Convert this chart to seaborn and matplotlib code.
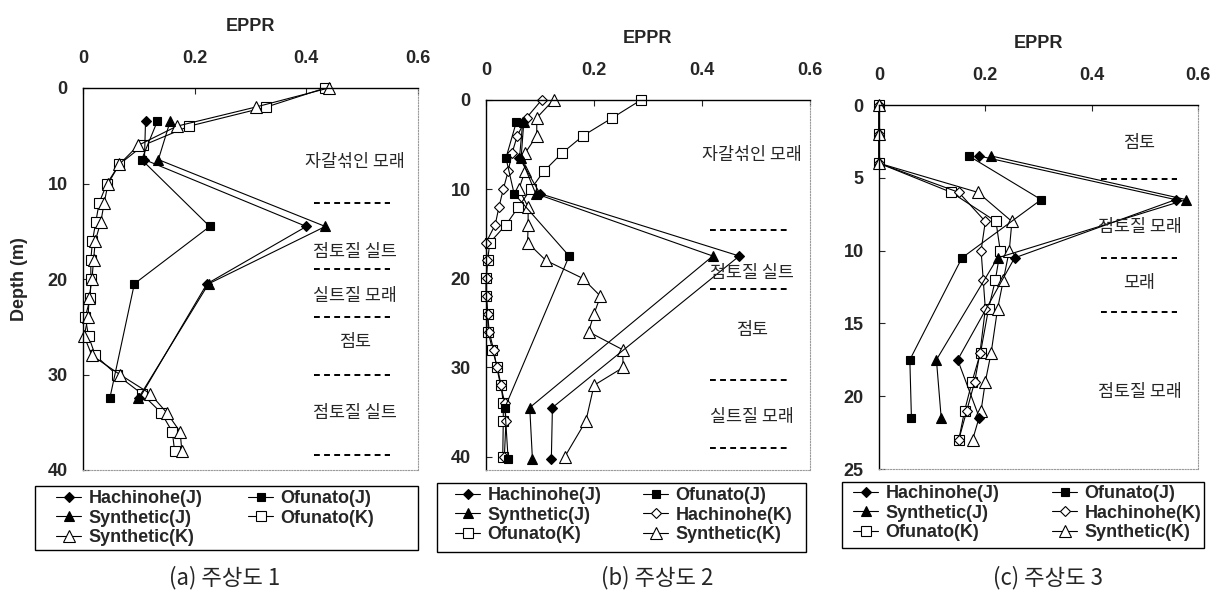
import matplotlib
matplotlib.use("Agg")
import matplotlib.pyplot as plt
from matplotlib.patches import Rectangle
import seaborn as sns

# ---------------- data ----------------
# (a) 주상도 1
depth_k_a = [0, 2, 4, 6, 8, 10, 12, 14, 16, 18, 20, 22, 24, 26, 28, 30, 32, 34, 36, 38]
ofunato_k_a = [0.434, 0.328, 0.190, 0.108, 0.065, 0.043, 0.029, 0.023, 0.017, 0.014,
               0.014, 0.013, 0.004, 0.010, 0.022, 0.060, 0.105, 0.140, 0.160, 0.164]
synthetic_k_a = [0.440, 0.309, 0.168, 0.099, 0.065, 0.045, 0.038, 0.032, 0.022, 0.019,
                 0.016, 0.011, 0.009, 0.002, 0.016, 0.066, 0.120, 0.150, 0.174, 0.177]
depth_j_a = [3.5, 7.5, 14.5, 20.5, 32.5]
hachinohe_j_a = [0.112, 0.110, 0.400, 0.222, 0.101]
ofunato_j_a = [0.133, 0.105, 0.227, 0.092, 0.048]
synthetic_j_a = [0.156, 0.135, 0.434, 0.225, 0.099]

# (b) 주상도 2
depth_k_b = [0, 2, 4, 6, 8, 10, 12, 14, 16, 18, 20, 22, 24, 26, 28, 30, 32, 34, 36, 40]
ofunato_k_b = [0.287, 0.234, 0.180, 0.140, 0.107, 0.083, 0.060, 0.037, 0.007, 0.003,
               0.000, 0.000, 0.003, 0.004, 0.012, 0.021, 0.028, 0.032, 0.032, 0.031]
hachinohe_k_b = [0.103, 0.075, 0.058, 0.048, 0.041, 0.032, 0.024, 0.017, 0.000, 0.002,
                 0.001, 0.001, 0.003, 0.006, 0.014, 0.020, 0.027, 0.035, 0.037, 0.034]
depth_sk_b = [0, 2, 4, 6, 8, 10, 12, 14, 16, 18, 20, 22, 24, 26, 28, 30, 32, 36, 40]
synthetic_k_b = [0.125, 0.094, 0.094, 0.072, 0.072, 0.061, 0.078, 0.078, 0.077, 0.111,
                 0.179, 0.212, 0.200, 0.190, 0.253, 0.254, 0.200, 0.185, 0.146]
depth_j_b = [2.5, 6.5, 10.5, 17.5, 34.5, 40.3]
hachinohe_j_b = [0.068, 0.062, 0.100, 0.469, 0.123, 0.121]
ofunato_j_b = [0.056, 0.037, 0.052, 0.154, 0.035, 0.041]
synthetic_j_b = [0.070, 0.065, 0.092, 0.420, 0.081, 0.086]

# (c) 주상도 3
depth_k_c = [0, 2, 4, 6, 8, 10, 12, 14, 17, 19, 21, 23]
ofunato_k_c = [0, 0, 0, 0.136, 0.220, 0.228, 0.219, 0.206, 0.191, 0.175, 0.161, 0.150]
hachinohe_k_c = [0, 0, 0, 0.150, 0.200, 0.192, 0.196, 0.200, 0.190, 0.180, 0.165, 0.150]
synthetic_k_c = [0, 0, 0, 0.186, 0.250, 0.245, 0.234, 0.223, 0.211, 0.200, 0.192, 0.176]
depth_j_c = [3.5, 6.5, 10.5, 17.5, 21.5]
hachinohe_j_c = [0.188, 0.558, 0.255, 0.148, 0.189]
ofunato_j_c = [0.169, 0.305, 0.156, 0.058, 0.061]
synthetic_j_c = [0.211, 0.578, 0.223, 0.108, 0.117]

# soil layers: (name, depth of label), layer boundaries
layers_a = [("자갈섞인 모래", 7.75), ("점토질 실트", 17.2), ("실트질 모래", 21.8),
            ("점토", 26.6), ("점토질 실트", 34.0)]
bounds_a = [12.0, 19.0, 24.0, 30.0, 38.4]
layers_b = [("자갈섞인 모래", 6.2), ("점토질 실트", 19.4), ("점토", 25.8), ("실트질 모래", 35.5)]
bounds_b = [14.6, 21.2, 31.4, 39.0]
layers_c = [("점토", 2.6), ("점토질 모래", 8.35), ("모래", 12.2), ("점토질 모래", 19.7)]
bounds_c = [5.05, 10.5, 14.25]

x_ticks = [0, 0.2, 0.4, 0.6]
x_ticklabels = ["0", "0.2", "0.4", "0.6"]
captions = ["(a) 주상도 1", "(b) 주상도 2", "(c) 주상도 3"]

# ---------------- styling ----------------
sns.set_style("ticks")
plt.rcParams["font.family"] = ["Liberation Sans", "DejaVu Sans"]
KR = ["Noto Sans CJK KR", "DejaVu Sans"]
LEG_FONT = dict(family=["Liberation Sans"], weight="bold", size=13)

STYLES = {
    "Hachinohe(J)": dict(marker="D", markersize=5, markerfacecolor="black"),
    "Ofunato(J)": dict(marker="s", markersize=6, markerfacecolor="black"),
    "Synthetic(J)": dict(marker="^", markersize=7.5, markerfacecolor="black"),
    "Hachinohe(K)": dict(marker="D", markersize=5.5, markerfacecolor="white"),
    "Ofunato(K)": dict(marker="s", markersize=7.5, markerfacecolor="white"),
    "Synthetic(K)": dict(marker="^", markersize=8.5, markerfacecolor="white"),
}

W, H = 1220, 598
fig = plt.figure(figsize=(W / 100, H / 100), dpi=100)


def px_axes(left, top, right, bottom):
    return fig.add_axes([left / W, 1 - bottom / H, (right - left) / W, (bottom - top) / H])


def draw_series(ax, name, x, y):
    sns.lineplot(x=x, y=y, ax=ax, sort=False, estimator=None, legend=False,
                 color="black", linewidth=0.8, markeredgecolor="black",
                 markeredgewidth=0.8, label=name, clip_on=False, **STYLES[name])


def style_axes(ax, ymax, yticks, show_ylabel):
    ax.set_xlim(0, 0.6)
    ax.set_ylim(ymax, 0)
    ax.xaxis.tick_top()
    ax.xaxis.set_label_position("top")
    ax.set_xticks(x_ticks)
    ax.set_xticklabels(x_ticklabels)
    ax.set_yticks(yticks)
    ax.set_yticklabels([str(t) for t in yticks])
    ax.tick_params(axis="x", direction="in", length=4, width=0.8, pad=15, labelsize=13)
    ax.tick_params(axis="y", direction="in", length=4, width=0.8, pad=11, labelsize=13)
    for lab in ax.get_xticklabels() + ax.get_yticklabels():
        lab.set_fontweight("bold")
    ax.set_xlabel("EPPR", fontsize=13, fontweight="bold", labelpad=14)
    if show_ylabel:
        ax.set_ylabel("Depth (m)", fontsize=13, fontweight="bold", labelpad=14)
    else:
        ax.set_ylabel("")
    for side in ("left", "top"):
        ax.spines[side].set_color("black")
        ax.spines[side].set_linewidth(1.0)
    for side in ("right", "bottom"):
        ax.spines[side].set_color("#9a9a9a")
        ax.spines[side].set_linewidth(0.8)
        ax.spines[side].set_linestyle((0, (1, 1.5)))
    ax.set_facecolor("white")


def draw_layers(ax, layers, bounds, x_text, x0, x1):
    for name, d in layers:
        ax.text(x_text, d, name, ha="center", va="center", fontsize=12.5, family=KR)
    for b in bounds:
        ax.plot([x0, x1], [b, b], color="black", linewidth=1.4, linestyle=(0, (3, 2.2)))


def add_legend(ax, columns, col_x, top, box):
    """One legend per column, placed at pixel positions, inside a drawn box."""
    handles, labels = ax.get_legend_handles_labels()
    lookup = dict(zip(labels, handles))
    for names, x in zip(columns, col_x):
        fig.legend([lookup[n] for n in names], names, loc="upper left",
                   bbox_to_anchor=(x / W, 1 - top / H), borderaxespad=0, borderpad=0,
                   frameon=False, handlelength=1.4, handletextpad=0.4,
                   labelspacing=0.15, prop=LEG_FONT)
    left, btop, right, bottom = box
    fig.add_artist(Rectangle((left / W, 1 - bottom / H), (right - left) / W, (bottom - btop) / H,
                             transform=fig.transFigure, fill=False, edgecolor="black",
                             linewidth=1.0))


# ---------------- panel (a) ----------------
ax_a = px_axes(83, 88, 418, 470)
draw_series(ax_a, "Ofunato(K)", ofunato_k_a, depth_k_a)
draw_series(ax_a, "Synthetic(K)", synthetic_k_a, depth_k_a)
draw_series(ax_a, "Hachinohe(J)", hachinohe_j_a, depth_j_a)
draw_series(ax_a, "Ofunato(J)", ofunato_j_a, depth_j_a)
draw_series(ax_a, "Synthetic(J)", synthetic_j_a, depth_j_a)
style_axes(ax_a, 40, [0, 10, 20, 30, 40], True)
draw_layers(ax_a, layers_a, bounds_a, 0.487, 0.413, 0.55)
add_legend(ax_a, [["Hachinohe(J)", "Synthetic(J)", "Synthetic(K)"], ["Ofunato(J)", "Ofunato(K)"]],
           [56, 248], 490, (35, 486, 418, 550))

# ---------------- panel (b) ----------------
ax_b = px_axes(486, 100, 810, 470)
draw_series(ax_b, "Ofunato(K)", ofunato_k_b, depth_k_b)
draw_series(ax_b, "Hachinohe(K)", hachinohe_k_b, depth_k_b)
draw_series(ax_b, "Synthetic(K)", synthetic_k_b, depth_sk_b)
draw_series(ax_b, "Hachinohe(J)", hachinohe_j_b, depth_j_b)
draw_series(ax_b, "Ofunato(J)", ofunato_j_b, depth_j_b)
draw_series(ax_b, "Synthetic(J)", synthetic_j_b, depth_j_b)
style_axes(ax_b, 41.5, [0, 10, 20, 30, 40], False)
draw_layers(ax_b, layers_b, bounds_b, 0.492, 0.415, 0.563)
add_legend(ax_b, [["Hachinohe(J)", "Synthetic(J)", "Ofunato(K)"],
                  ["Ofunato(J)", "Hachinohe(K)", "Synthetic(K)"]],
           [455, 643], 487, (437, 483, 806, 552))

# ---------------- panel (c) ----------------
ax_c = px_axes(879, 105, 1198, 469)
draw_series(ax_c, "Ofunato(K)", ofunato_k_c, depth_k_c)
draw_series(ax_c, "Hachinohe(K)", hachinohe_k_c, depth_k_c)
draw_series(ax_c, "Synthetic(K)", synthetic_k_c, depth_k_c)
draw_series(ax_c, "Hachinohe(J)", hachinohe_j_c, depth_j_c)
draw_series(ax_c, "Ofunato(J)", ofunato_j_c, depth_j_c)
draw_series(ax_c, "Synthetic(J)", synthetic_j_c, depth_j_c)
style_axes(ax_c, 25, [0, 5, 10, 15, 20, 25], False)
draw_layers(ax_c, layers_c, bounds_c, 0.49, 0.417, 0.561)
add_legend(ax_c, [["Hachinohe(J)", "Synthetic(J)", "Ofunato(K)"],
                  ["Ofunato(J)", "Hachinohe(K)", "Synthetic(K)"]],
           [853, 1052], 485, (842, 482, 1204, 548))

# ---------------- captions ----------------
for cx, text in zip([225, 657, 1048], captions):
    fig.text(cx / W, 1 - 578 / H, text, ha="center", va="center", fontsize=16, family=KR)

fig.savefig("out.png", dpi=100, facecolor="white")
